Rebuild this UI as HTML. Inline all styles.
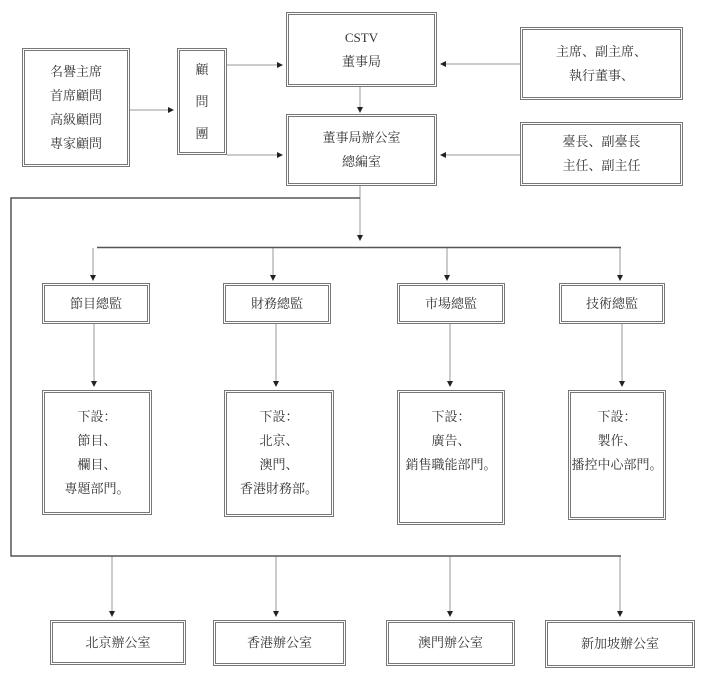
<!DOCTYPE html>
<html><head><meta charset="utf-8"><style>
body{margin:0;width:706px;height:677px;background:#fff;position:relative;overflow:hidden;font-family:"Liberation Serif","Noto Serif CJK SC","Noto Sans CJK TC",serif;color:#333;font-size:13px}
.b{position:absolute;box-sizing:border-box;border:3px double #777;display:flex;flex-direction:column;align-items:center;justify-content:center;text-align:center;line-height:24px}
.t{justify-content:flex-start;padding-top:12px;line-height:24px}
svg{position:absolute;left:0;top:0}
</style></head><body>
<svg width="706" height="677">
<defs><marker id="a" markerWidth="6" markerHeight="6" refX="5" refY="3" orient="auto"><path d="M0,0L6,3L0,6z" fill="#222"/></marker></defs>
<g stroke="#999" stroke-width="1" fill="none">
<line x1="130" y1="110" x2="173" y2="110" marker-end="url(#a)"/>
<line x1="227" y1="65" x2="282" y2="65" marker-end="url(#a)"/>
<line x1="227" y1="155" x2="282" y2="155" marker-end="url(#a)"/>
<line x1="520" y1="64" x2="441" y2="64" marker-end="url(#a)"/>
<line x1="520" y1="155" x2="441" y2="155" marker-end="url(#a)"/>
<line x1="360" y1="87" x2="360" y2="112" marker-end="url(#a)"/>
<line x1="360" y1="186" x2="360" y2="240" marker-end="url(#a)"/>
<line x1="93" y1="248" x2="93" y2="280" marker-end="url(#a)"/>
<line x1="273" y1="248" x2="273" y2="280" marker-end="url(#a)"/>
<line x1="447" y1="248" x2="447" y2="280" marker-end="url(#a)"/>
<line x1="620" y1="248" x2="620" y2="280" marker-end="url(#a)"/>
<line x1="94" y1="324" x2="94" y2="386" marker-end="url(#a)"/>
<line x1="276" y1="324" x2="276" y2="386" marker-end="url(#a)"/>
<line x1="450" y1="324" x2="450" y2="386" marker-end="url(#a)"/>
<line x1="622" y1="324" x2="622" y2="386" marker-end="url(#a)"/>
<line x1="112" y1="556" x2="112" y2="616" marker-end="url(#a)"/>
<line x1="276" y1="556" x2="276" y2="616" marker-end="url(#a)"/>
<line x1="450" y1="556" x2="450" y2="616" marker-end="url(#a)"/>
<line x1="620" y1="556" x2="620" y2="616" marker-end="url(#a)"/>
</g>
<g stroke="#555" stroke-width="1.5" fill="none">
<polyline points="360,198 11,198 11,556 621,556"/>
<line x1="97" y1="247.5" x2="621" y2="247.5"/>
</g>
</svg>
<div class="b" style="left:22px;top:48px;width:108px;height:119px">名譽主席<br>首席顧問<br>高級顧問<br>專家顧問</div>
<div class="b" style="left:177px;top:48px;width:50px;height:107px;line-height:32px">顧<br>問<br>團</div>
<div class="b" style="left:286px;top:12px;width:151px;height:75px">CSTV<br>董事局</div>
<div class="b" style="left:520px;top:27px;width:163px;height:73px">主席、副主席、<br>執行董事、</div>
<div class="b" style="left:286px;top:114px;width:151px;height:72px">董事局辦公室<br>總編室</div>
<div class="b" style="left:520px;top:122px;width:163px;height:64px">臺長、副臺長<br>主任、副主任</div>
<div class="b" style="left:42px;top:283px;width:108px;height:41px">節目總監</div>
<div class="b" style="left:223px;top:283px;width:108px;height:41px">財務總監</div>
<div class="b" style="left:397px;top:283px;width:108px;height:41px">市場總監</div>
<div class="b" style="left:559px;top:283px;width:106px;height:41px">技術總監</div>
<div class="b t" style="left:42px;top:390px;width:110px;height:125px">下設：<br>節目、<br>欄目、<br>專題部門。</div>
<div class="b t" style="left:224px;top:390px;width:110px;height:127px">下設：<br>北京、<br>澳門、<br>香港財務部。</div>
<div class="b t" style="left:397px;top:390px;width:108px;height:135px">下設：<br>廣告、<br>銷售職能部門。</div>
<div class="b t" style="left:568px;top:390px;width:98px;height:130px">下設：<br>製作、<br>播控中心部門。</div>
<div class="b" style="left:50px;top:620px;width:136px;height:45px">北京辦公室</div>
<div class="b" style="left:213px;top:620px;width:133px;height:46px">香港辦公室</div>
<div class="b" style="left:386px;top:620px;width:129px;height:46px">澳門辦公室</div>
<div class="b" style="left:545px;top:620px;width:150px;height:48px">新加坡辦公室</div>
</body></html>
